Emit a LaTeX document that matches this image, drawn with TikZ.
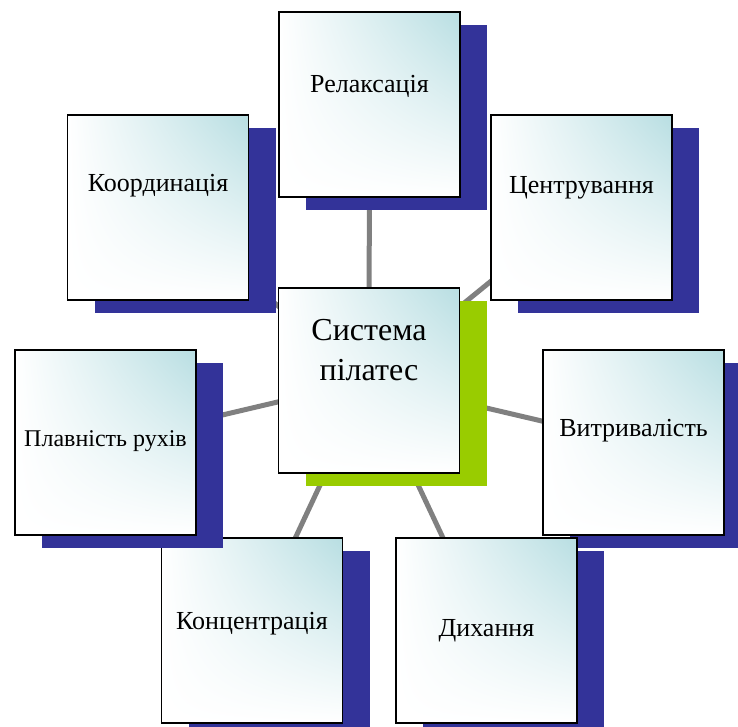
\documentclass[tikz,border=0pt]{standalone}
\usepackage{fontspec}
\setmainfont{Liberation Serif}
\usetikzlibrary{positioning,shadows,shadings,backgrounds}
\definecolor{indigo}{RGB}{51,51,153}
\definecolor{lime}{RGB}{153,204,0}
\definecolor{frost}{RGB}{184,222,226}
\definecolor{steel}{RGB}{128,128,128}
\tikzset{
  card/.style={draw=black,line width=1.8pt,minimum width=181pt,minimum height=185pt,
    upper right=frost,upper left=white,lower left=white,lower right=white,
    general shadow={fill=#1,shadow xshift=27pt,shadow yshift=-13pt}},
  card/.default=indigo,
  cardtext/.style={font=\fontsize{#1}{32}\selectfont,align=center,inner sep=0pt},
  cardtext/.default=26,
  spoke/.style={draw=steel,line width=5pt},
}

\begin{document}
\begin{tikzpicture}[x=1pt,y=-1pt]
    \useasboundingbox (0,0) rectangle (738,727);
    \clip (0,0) rectangle (738,727);
    % hub
    \node[card=lime] (cen) at (369,380.5) {};
    \node[cardtext,font=\fontsize{32}{40}\selectfont] (cen-t) at ([yshift=-63pt]cen.north) {Система\\пілатес};
    % satellites, clockwise from the top
    \foreach \n/\x/\y/\f/\dy/\t in {
      rel/369.5/104.5/26/75/Релаксація,
      tsen/581.5/207.5/26/74/Центрування,
      vytr/633.5/442.5/26/82/Витривалість,
      dykh/486.5/630.5/26/94/Дихання,
      konts/252/630.5/26/87/Концентрація,
      plav/105.5/442.5/24/92/Плавність рухів,
      koord/158/207.5/26/72/Координація}
    {
      \node[card] (\n) at (\x,\y) {};
      \node[cardtext=\f] (\n-t) at ([yshift=-\dy pt]\n.north) {\t};
    }
    \begin{scope}[on background layer]
      \foreach \n in {rel,tsen,vytr,dykh,konts,plav,koord}
        \draw[spoke] (cen.center) -- (\n.center);
    \end{scope}
\end{tikzpicture}
\end{document}
